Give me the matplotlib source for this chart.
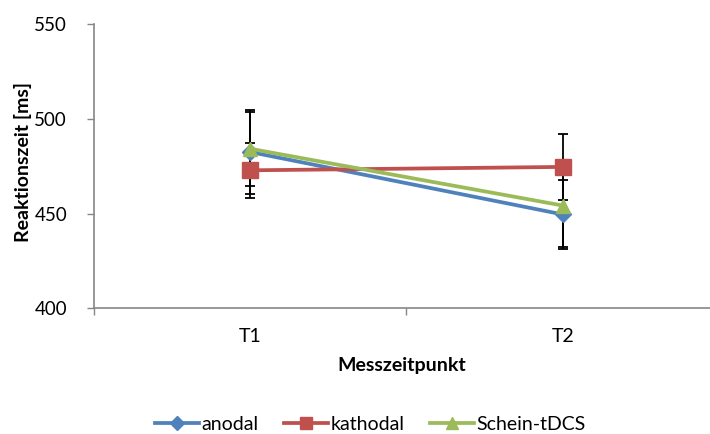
import matplotlib
matplotlib.use("Agg")
import matplotlib.pyplot as plt
from matplotlib.lines import Line2D

plt.rcParams['font.family'] = ['Lato', 'DejaVu Sans']

categories = ["T1", "T2"]
series_names = ["anodal", "kathodal", "Schein-tDCS"]
anodal = [482.5, 449.5]
kathodal = [472.8, 474.6]
schein = [484.2, 454.2]
anodal_err = [22.0, 18.0]
kathodal_err = [14.5, 17.3]
schein_err = [19.5, 22.0]
yticks = [400, 450, 500, 550]

colors = ["#4F81BD", "#C0504D", "#9BBB59"]
markers = ["D", "s", "^"]
msizes = [8, 11, 10]

fig = plt.figure(figsize=(7.10, 4.34), dpi=100)
ax = fig.add_axes([93.5/710, 1-308.3/434, 1-93.5/710, (308.3-24)/434])

x = list(range(len(categories)))
data = [anodal, kathodal, schein]
errs = [anodal_err, kathodal_err, schein_err]

for vals, err in zip(data, errs):
    ax.errorbar(x, vals, yerr=err, fmt='none', ecolor='black', elinewidth=1.3,
                capsize=3.6, capthick=1.3, zorder=2)

for vals, c, m, ms, name in zip(data, colors, markers, msizes, series_names):
    ax.plot(x, vals, color=c, lw=2.7, marker=m, markersize=ms,
            markeredgecolor=c, label=name, zorder=3)

fs = 14
ax.set_ylim(400, 550)
ax.set_yticks(yticks)
ax.set_xlim(-0.5, 1.47)
ax.set_xticks([-0.5, 0.5])
ax.set_xticklabels(["", ""])
ax.set_xticks(x, minor=True)
ax.set_xticklabels(categories, minor=True)
ax.tick_params(axis='x', which='minor', length=0, pad=14, labelsize=fs)
ax.tick_params(axis='x', which='major', length=5, width=1, color='#868686', direction='out')
ax.tick_params(axis='y', length=5, width=1, color='#868686', direction='out', pad=14, labelsize=13.5)

for s in ['top', 'right']:
    ax.spines[s].set_visible(False)
for s in ['left', 'bottom']:
    ax.spines[s].set_color('#868686')
    ax.spines[s].set_linewidth(1.2)

ax.set_ylabel("Reaktionszeit [ms]", fontsize=fs, fontweight='bold')
ax.yaxis.set_label_coords(-0.0998, 0.513)
ax.set_xlabel("Messzeitpunkt", fontsize=fs, fontweight='bold', labelpad=9)

handles = [Line2D([0], [0], color=c, lw=2.7, marker=m, markersize=ms*0.85, markeredgecolor=c)
           for c, m, ms in zip(colors, markers, msizes)]
fig.legend(handles, series_names, loc='center', bbox_to_anchor=(370/710, 1-424/434),
           ncol=3, frameon=False, fontsize=fs, handlelength=2.3, handletextpad=0.1,
           columnspacing=1.3)

fig.savefig("out.png", dpi=100)
